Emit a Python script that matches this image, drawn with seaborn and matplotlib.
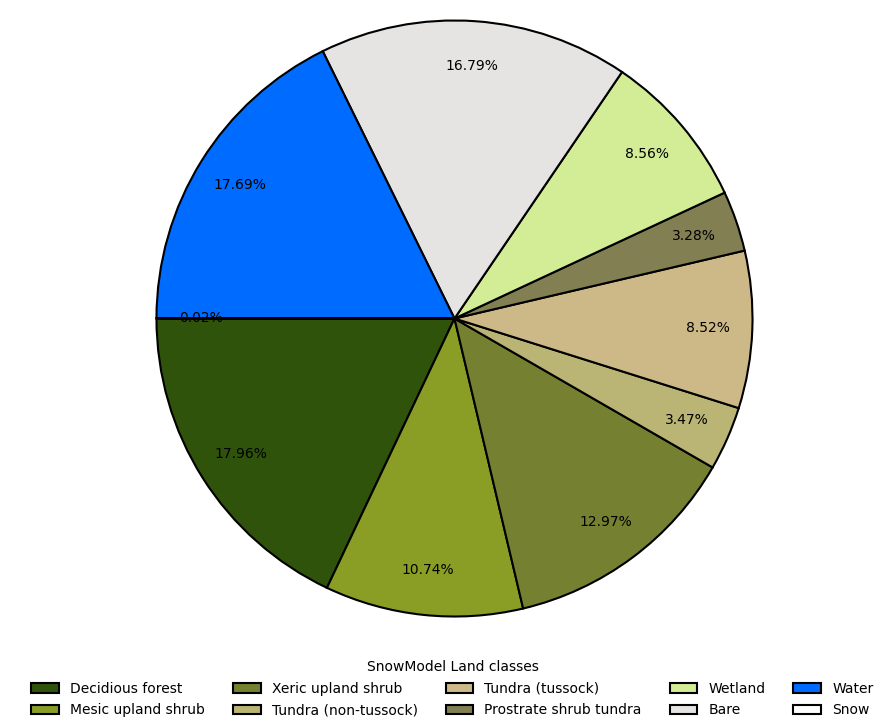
import seaborn as sns
import matplotlib
matplotlib.use("Agg")
import matplotlib.pyplot as plt

# SnowModel land class shares (percent)
classes = ["Decidious forest", "Mesic upland shrub", "Xeric upland shrub",
           "Tundra (non-tussock)", "Tundra (tussock)", "Prostrate shrub tundra",
           "Wetland", "Bare", "Water", "Snow"]
shares = [17.96, 10.74, 12.97, 3.47, 8.52, 3.28, 8.56, 16.79, 17.69, 0.02]
hex_colors = ["#30530b", "#8a9e26", "#758030", "#bab574", "#cdb987",
              "#827f52", "#d3ed97", "#e5e4e2", "#006cff", "#ffffff"]

sns.set_style("white")
plt.rcParams['font.family'] = ['DejaVu Sans']
plt.rcParams['text.color'] = 'black'
palette = sns.color_palette(hex_colors)

fig = plt.figure(figsize=(8.96, 7.27), dpi=100)
ax = fig.add_axes([155 / 896, 109 / 727, 599 / 896, 599 / 727])

wedges, texts, autotexts = ax.pie(
    shares, colors=palette, startangle=180, autopct="%1.2f%%",
    pctdistance=0.85, wedgeprops={"edgecolor": "black", "linewidth": 1.5},
    textprops={"fontsize": 10, "color": "black"},
)
ax.set_xlim(-1.005, 1.005)
ax.set_ylim(-1.005, 1.005)
ax.set_aspect("equal")

fig.legend(wedges, classes, title="SnowModel Land classes", loc="lower center",
           bbox_to_anchor=(0.505, -0.004), ncol=5, frameon=False, fontsize=10,
           title_fontsize=10, columnspacing=2.0, labelspacing=0.55)

fig.savefig("out.png", dpi=100)
